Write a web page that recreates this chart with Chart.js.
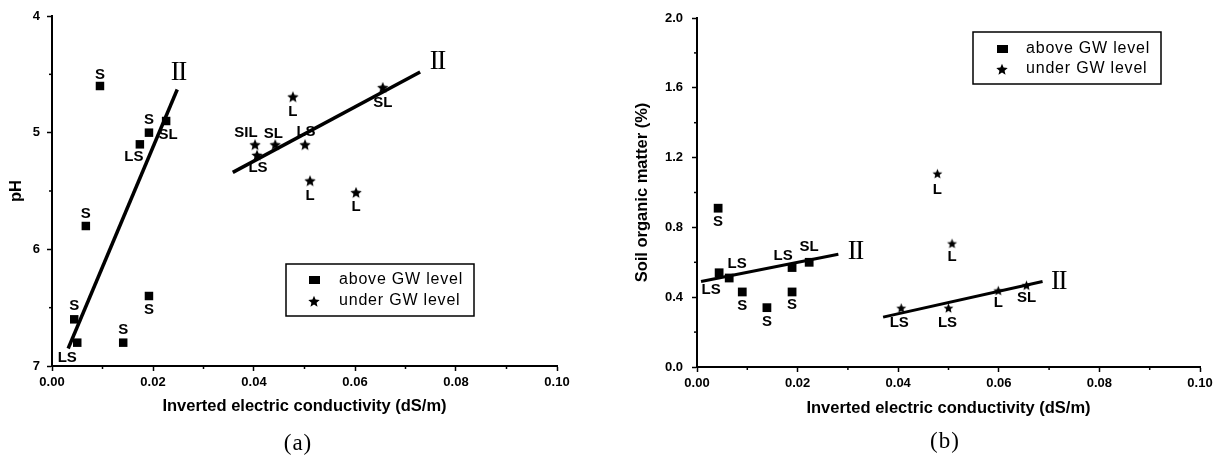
<!DOCTYPE html>
<html>
<head>
<meta charset="utf-8">
<script src="https://cdn.jsdelivr.net/npm/chart.js@4.4.1/dist/chart.umd.min.js"></script>
<style>
  html, body { margin: 0; padding: 0; background: #fff; }
  #wrap { position: relative; width: 1218px; height: 464px; overflow: hidden; }
  canvas { position: absolute; top: 0; }
  #chartA { left: 0; }
  #chartB { left: 609px; }
  .panel-tag { position: absolute; width: 60px; text-align: center; font: 23px 'Liberation Serif', 'Times New Roman', serif; letter-spacing: 1px; color: #000; }
</style>
</head>
<body>
<div id="wrap">
  <canvas id="chartA" width="609" height="464"></canvas>
  <canvas id="chartB" width="609" height="464"></canvas>
  <div class="panel-tag" style="left:268px; top:430px;">(a)</div>
  <div class="panel-tag" style="left:915px; top:428px;">(b)</div>
</div>
<script>
// tick labels
const ecTickLabels = ['0.00', '0.02', '0.04', '0.06', '0.08', '0.10'];
const phTickLabels = ['4', '5', '6', '7'];
const omTickLabels = ['0.0', '0.4', '0.8', '1.2', '1.6', '2.0'];

const seriesNames = ['above GW level', 'under GW level'];
const fitTag = 'II';

// (a) pH vs inverted EC
const phAboveEC = [0.0095, 0.0192, 0.0226, 0.0174, 0.0067, 0.0044, 0.0050, 0.0141, 0.0192];
const phAbovePH = [4.60, 5.00, 4.90, 5.10, 5.80, 6.60, 6.80, 6.80, 6.40];
const phAboveSoil = ['S', 'S', 'SL', 'LS', 'S', 'S', 'LS', 'S', 'S'];

const phUnderEC = [0.0477, 0.0402, 0.0442, 0.0406, 0.0501, 0.0511, 0.0602, 0.0655];
const phUnderPH = [4.69, 5.10, 5.10, 5.19, 5.10, 5.41, 5.51, 4.61];
const phUnderSoil = ['L', 'SIL', 'SL', 'LS', 'LS', 'L', 'L', 'SL'];

const phFitAboveEC = [0.0032, 0.0248];
const phFitAbovePH = [6.85, 4.63];
const phFitUnderEC = [0.0358, 0.0729];
const phFitUnderPH = [5.34, 4.48];

// (b) soil organic matter vs inverted EC
const omAboveEC = [0.0042, 0.0044, 0.0064, 0.0090, 0.0139, 0.0189, 0.0189, 0.0223];
const omAboveOM = [0.91, 0.54, 0.51, 0.43, 0.34, 0.57, 0.43, 0.60];
const omAboveSoil = ['S', 'LS', 'LS', 'S', 'S', 'LS', 'S', 'SL'];

const omUnderEC = [0.0478, 0.0507, 0.0406, 0.0500, 0.0599, 0.0655];
const omUnderOM = [1.11, 0.71, 0.34, 0.34, 0.44, 0.47];
const omUnderSoil = ['L', 'L', 'LS', 'LS', 'L', 'SL'];

const omFitAboveEC = [0.0008, 0.0281];
const omFitAboveOM = [0.49, 0.646];
const omFitUnderEC = [0.0370, 0.0687];
const omFitUnderOM = [0.286, 0.49];

// label placement next to each marker (pixels)
const phAboveTagOffsets = [[0, -11], [0, -13], [2, 14], [-6, 13], [0, -12], [0, -13], [-10, 15], [0, -13], [0, 14]];
const phUnderTagOffsets = [[0, 15], [-9, -11], [-2, -10], [1, 13], [1, -12], [0, 15], [0, 15], [0, 16]];
const omAboveTagOffsets = [[0, 14], [-8, 17], [8, -14], [0, 14], [0, 14], [-9, -12], [0, 13], [0, -15]];
const omUnderTagOffsets = [[0, 17], [0, 14], [-2, 15], [-1, 15], [0, 13], [0, 13]];

const sansFont = "'Liberation Sans', Arial, sans-serif";
const tickFont = { family: sansFont, size: 13, weight: 'bold' };
const titleFont = { family: sansFont, size: 16.5, weight: 'bold' };

const zip = (xs, ys) => xs.map((x, i) => ({ x: x, y: ys[i] }));

// filled five-point star as a point style
function makeStar(r) {
    const c = document.createElement('canvas');
    const s = Math.ceil(r * 2 + 2);
    c.width = s;
    c.height = s;
    const g = c.getContext('2d');
    g.fillStyle = '#000';
    g.beginPath();
    for (let i = 0; i < 10; i++) {
        const rad = i % 2 === 0 ? r : r * 0.45;
        const a = -Math.PI / 2 + i * Math.PI / 5;
        const px = s / 2 + rad * Math.cos(a);
        const py = s / 2 + 0.8 + rad * Math.sin(a);
        if (i === 0) g.moveTo(px, py); else g.lineTo(px, py);
    }
    g.closePath();
    g.fill();
    return c;
}

// short ticks between the labelled ones
const minorTicks = {
    id: 'minorTicks',
    afterDraw(chart) {
        const ctx = chart.ctx;
        ctx.save();
        ctx.strokeStyle = '#000';
        ctx.lineWidth = 1.5;
        ['x', 'y'].forEach(id => {
            const s = chart.scales[id];
            for (let i = 0; i < s.ticks.length - 1; i++) {
                const p = s.getPixelForValue((s.ticks[i].value + s.ticks[i + 1].value) / 2);
                ctx.beginPath();
                if (id === 'x') {
                    ctx.moveTo(p, s.top);
                    ctx.lineTo(p, s.top + 3);
                } else {
                    ctx.moveTo(s.right, p);
                    ctx.lineTo(s.right - 3, p);
                }
                ctx.stroke();
            }
        });
        ctx.restore();
    }
};

// soil texture labels next to points and the II tag at the end of each fit line
const pointTags = {
    id: 'pointTags',
    afterDatasetsDraw(chart) {
        const ctx = chart.ctx;
        ctx.save();
        ctx.fillStyle = '#000';
        ctx.textAlign = 'center';
        ctx.textBaseline = 'middle';
        chart.data.datasets.forEach((ds, di) => {
            const meta = chart.getDatasetMeta(di);
            if (ds.tags) {
                ctx.font = 'bold 15px ' + sansFont;
                ctx.letterSpacing = '0px';
                meta.data.forEach((el, i) => {
                    const o = ds.tagOffsets[i];
                    ctx.fillText(ds.tags[i], el.x + o[0], el.y + o[1]);
                });
            }
            if (ds.endTag) {
                const el = meta.data[meta.data.length - 1];
                ctx.font = "27px 'Liberation Serif', 'Times New Roman', serif";
                ctx.letterSpacing = '-1.5px';
                ctx.fillText(ds.endTag, el.x + ds.endTagOffset[0], el.y + ds.endTagOffset[1]);
            }
        });
        ctx.restore();
    }
};

// framed legend inside the plot
const boxLegend = {
    id: 'boxLegend',
    afterDraw(chart, args, opts) {
        const ctx = chart.ctx;
        const b = opts.box;
        ctx.save();
        ctx.strokeStyle = '#000';
        ctx.lineWidth = 1.5;
        ctx.strokeRect(b[0], b[1], b[2], b[3]);
        ctx.fillStyle = '#000';
        ctx.font = '16px ' + sansFont;
        ctx.letterSpacing = '0.8px';
        ctx.textAlign = 'left';
        ctx.textBaseline = 'middle';
        for (let i = 0; i < 2; i++) {
            const ds = chart.data.datasets[i];
            const y = opts.rows[i];
            if (ds.pointStyle === 'rect') {
                ctx.fillRect(opts.markerX - 5, y - 4, 11, 8);
            } else {
                const img = opts.star;
                ctx.drawImage(img, opts.markerX - img.width / 2, y - img.height / 2);
            }
            ctx.fillText(ds.label, opts.textX, y);
        }
        ctx.restore();
    }
};

function xScale(height, tickPad) {
    return {
        type: 'linear',
        position: 'bottom',
        min: 0,
        max: 0.1,
        afterBuildTicks: s => { s.ticks = ecTickLabels.map(t => ({ value: parseFloat(t) })); },
        afterFit: s => { s.height = height; },
        ticks: { callback: (v, i) => ecTickLabels[i], color: '#000', font: tickFont, padding: tickPad, maxRotation: 0, autoSkip: false },
        grid: { drawOnChartArea: false, tickLength: 5, tickColor: '#000', tickWidth: 1.5 },
        border: { color: '#000', width: 2 },
        title: { display: true, text: 'Inverted electric conductivity (dS/m)', color: '#000', font: titleFont, padding: 0 }
    };
}

function yScale(labels, width, tickPad, titleText, titlePad, reverse) {
    return {
        type: 'linear',
        position: 'left',
        reverse: reverse,
        min: parseFloat(labels[0]),
        max: parseFloat(labels[labels.length - 1]),
        afterBuildTicks: s => { s.ticks = labels.map(t => ({ value: parseFloat(t) })); },
        afterFit: s => { s.width = width; },
        ticks: { callback: (v, i) => labels[i], color: '#000', font: tickFont, padding: tickPad, autoSkip: false },
        grid: { drawOnChartArea: false, tickLength: 5, tickColor: '#000', tickWidth: 1.5 },
        border: { color: '#000', width: 2 },
        title: { display: true, text: titleText, color: '#000', font: titleFont, padding: { top: titlePad, bottom: 0 } }
    };
}

function fitLine(xs, ys, width, tagOffset) {
    return {
        data: zip(xs, ys),
        showLine: true,
        fill: false,
        pointRadius: 0,
        borderColor: '#000',
        borderWidth: width,
        endTag: fitTag,
        endTagOffset: tagOffset
    };
}

const commonOptions = {
    responsive: false,
    animation: false,
    devicePixelRatio: 1,
    events: []
};

new Chart(document.getElementById('chartA'), {
    type: 'scatter',
    data: {
        datasets: [
            { label: seriesNames[0], data: zip(phAboveEC, phAbovePH), pointStyle: 'rect', pointRadius: 6, backgroundColor: '#000', borderColor: '#000', borderWidth: 0, tags: phAboveSoil, tagOffsets: phAboveTagOffsets },
            { label: seriesNames[1], data: zip(phUnderEC, phUnderPH), pointStyle: makeStar(6), pointRadius: 5, backgroundColor: '#000', borderColor: '#000', tags: phUnderSoil, tagOffsets: phUnderTagOffsets },
            fitLine(phFitAboveEC, phFitAbovePH, 3.5, [1, -17]),
            fitLine(phFitUnderEC, phFitUnderPH, 3.5, [17, -10])
        ]
    },
    options: Object.assign({}, commonOptions, {
        layout: { padding: { left: 0, right: 52, top: 16, bottom: 48 } },
        scales: {
            x: xScale(50, 4),
            y: yScale(phTickLabels, 52, 7, 'pH', 7, true)
        },
        plugins: {
            legend: { display: false },
            tooltip: { enabled: false },
            boxLegend: { box: [286, 264, 188, 52], markerX: 314, textX: 339, rows: [280, 301], star: makeStar(6) }
        }
    }),
    plugins: [minorTicks, pointTags, boxLegend]
});

new Chart(document.getElementById('chartB'), {
    type: 'scatter',
    data: {
        datasets: [
            { label: seriesNames[0], data: zip(omAboveEC, omAboveOM), pointStyle: 'rect', pointRadius: 6.2, backgroundColor: '#000', borderColor: '#000', borderWidth: 0, tags: omAboveSoil, tagOffsets: omAboveTagOffsets },
            { label: seriesNames[1], data: zip(omUnderEC, omUnderOM), pointStyle: makeStar(5.2), pointRadius: 5, backgroundColor: '#000', borderColor: '#000', tags: omUnderSoil, tagOffsets: omUnderTagOffsets },
            fitLine(omFitAboveEC, omFitAboveOM, 3, [17, -2]),
            fitLine(omFitUnderEC, omFitUnderOM, 3, [16, 0])
        ]
    },
    options: Object.assign({}, commonOptions, {
        layout: { padding: { left: 0, right: 18, top: 18, bottom: 46 } },
        scales: {
            x: xScale(51, 4),
            y: yScale(omTickLabels, 88, 9, 'Soil organic matter (%)', 24, false)
        },
        plugins: {
            legend: { display: false },
            tooltip: { enabled: false },
            boxLegend: { box: [364, 32, 188, 52], markerX: 393, textX: 417, rows: [49, 69], star: makeStar(6) }
        }
    }),
    plugins: [minorTicks, pointTags, boxLegend]
});
</script>
</body>
</html>
